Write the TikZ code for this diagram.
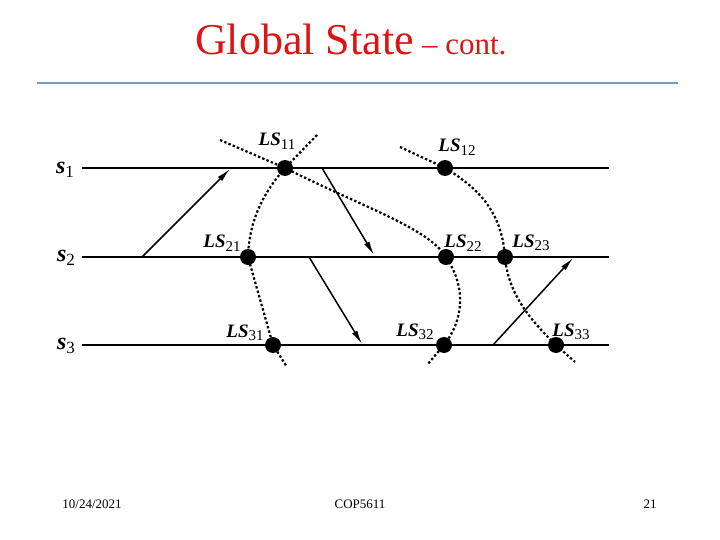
\documentclass[tikz,border=0pt]{standalone}
\usepackage{fontspec}
\setmainfont{Liberation Serif}
\usetikzlibrary{arrows.meta}

\definecolor{rulecol}{RGB}{120,155,195}
\definecolor{titlered}{RGB}{220,20,20}

\newcommand\lsidx[1]{\raisebox{-0.4ex}{\normalfont\fontsize{15}{15}\selectfont #1}}

\tikzset{
	dot/.style={circle, fill=black, inner sep=0pt, minimum size=16pt},
	procline/.style={line width=2.6pt},
	msg/.style={line width=1.5pt, -{Latex[length=14pt,width=6pt]}},
	cut/.style={line width=2.2pt, dash pattern=on 2.4pt off 2.2pt},
	lslab/.style={font=\fontsize{19}{19}\selectfont\bfseries\itshape},
	proclab/.style={font=\fontsize{24}{24}\selectfont\bfseries\itshape}
}

\begin{document}
\begin{tikzpicture}[x=1pt, y=-1pt]
		\useasboundingbox (0, 0) rectangle (720, 540);
		
		% title
		\node[anchor=base west, inner sep=0pt, text=titlered, font=\fontsize{44}{44}\selectfont] (title) at (195, 55) {Global State};
		\node[anchor=base west, inner sep=0pt, text=titlered, font=\fontsize{31}{31}\selectfont] (cont) at (title.base east) {\ -- cont.};
		\coordinate (rulea) at (37, 83);
		\coordinate (ruleb) at (678, 83);
		\draw[rulecol, line width=2pt] (rulea) -- (ruleb);
		
		% processes
		\coordinate (s1a) at (82, 168);
		\coordinate (s1b) at (609, 168);
		\coordinate (s2a) at (82, 257);
		\coordinate (s2b) at (609, 257);
		\coordinate (s3a) at (82, 345);
		\coordinate (s3b) at (609, 345);
		\draw[procline] (s1a) -- (s1b);
		\draw[procline] (s2a) -- (s2b);
		\draw[procline] (s3a) -- (s3b);
		
		\node[proclab] (s1) at (65, 170) {s\lsidx{\fontsize{17}{17}\selectfont 1}};
		\node[proclab] (s2) at (66, 258) {s\lsidx{\fontsize{17}{17}\selectfont 2}};
		\node[proclab] (s3) at (66, 346) {s\lsidx{\fontsize{17}{17}\selectfont 3}};
		
		% local states
		\node[dot] (ls11) at (285, 168) {};
		\node[dot] (ls12) at (445, 168) {};
		\node[dot] (ls21) at (248, 257) {};
		\node[dot] (ls22) at (446, 257) {};
		\node[dot] (ls23) at (505, 257) {};
		\node[dot] (ls31) at (273, 345) {};
		\node[dot] (ls32) at (444, 345) {};
		\node[dot] (ls33) at (556, 345) {};
		
		\node[lslab] (l11) at (277, 141) {LS\lsidx{11}};
		\node[lslab] (l12) at (457, 147) {LS\lsidx{12}};
		\node[lslab] (l21) at (222, 243) {LS\lsidx{21}};
		\node[lslab] (l22) at (463, 243) {LS\lsidx{22}};
		\node[lslab] (l23) at (531, 243) {LS\lsidx{23}};
		\node[lslab] (l31) at (245, 333) {LS\lsidx{31}};
		\node[lslab] (l32) at (415, 332) {LS\lsidx{32}};
		\node[lslab] (l33) at (571, 332) {LS\lsidx{33}};
		
		% messages
		\coordinate (m1a) at (142, 257);
		\coordinate (m1b) at (230, 169);
		\coordinate (m2a) at (322, 168);
		\coordinate (m2b) at (374, 255);
		\coordinate (m3a) at (309, 257);
		\coordinate (m3b) at (362, 344);
		\coordinate (m4a) at (493, 345);
		\coordinate (m4b) at (573, 258);
		\draw[msg] (m1a) -- (m1b);
		\draw[msg] (m2a) -- (m2b);
		\draw[msg] (m3a) -- (m3b);
		\draw[msg] (m4a) -- (m4b);
		
		% cuts
		\coordinate (c1a) at (317, 135);
		\coordinate (c1b) at (287, 367);
		\coordinate (c2a) at (220, 140);
		\coordinate (c2b) at (427, 365);
		\coordinate (c3a) at (400, 147);
		\coordinate (c3b) at (575, 362);
		\draw[cut] (c1a) -- (ls11.center) .. controls (264, 192) and (249, 220) .. (ls21.center) -- (ls31.center) -- (c1b);
		\draw[cut] (c2a) -- (ls11.center) .. controls (365, 208) and (428, 228) .. (ls22.center) .. controls (468, 290) and (462, 322) .. (ls32.center) -- (c2b);
		\draw[cut] (c3a) -- (ls12.center) .. controls (482, 190) and (502, 215) .. (ls23.center) .. controls (508, 292) and (528, 318) .. (ls33.center) -- (c3b);
		
		% footer
		\node[font=\fontsize{13}{13}\selectfont] (date) at (92, 504) {10/24/2021};
		\node[font=\fontsize{13}{13}\selectfont] (course) at (360, 504) {COP5611};
		\node[font=\fontsize{13}{13}\selectfont] (page) at (650, 504) {21};
	\end{tikzpicture}
\end{document}
